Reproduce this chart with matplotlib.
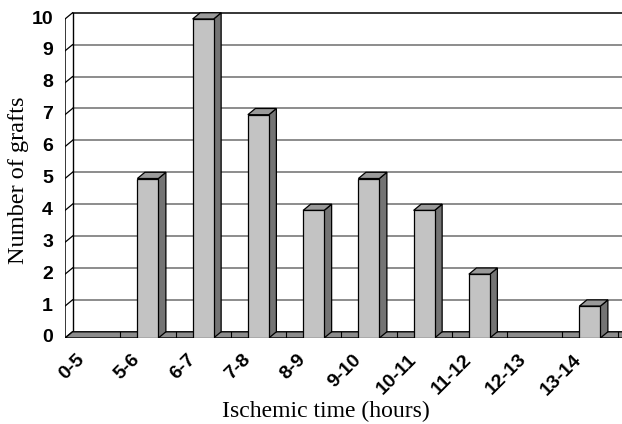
import matplotlib
matplotlib.use("Agg")
import matplotlib.pyplot as plt
from matplotlib.patches import Polygon

# data
categories = ["0-5", "5-6", "6-7", "7-8", "8-9", "9-10", "10-11", "11-12", "12-13", "13-14"]
grafts = [0, 5, 10, 7, 4, 5, 4, 2, 0, 1]
yticks = list(range(0, 11))

# pseudo-3D geometry (data units)
DX = 0.136     # depth shift along x (categories)
DY = 0.195     # depth shift along y (values)
BW = 0.38      # front width of a bar
YMAX = 10

FRONT = "#c3c3c3"
SIDE = "#747474"
TOP = "#9a9a9a"
FLOOR = "#8c8c8c"
GRID = "#6e6e6e"

W, H = 622, 424
fig = plt.figure(figsize=(W / 100, H / 100), dpi=100)

# axes placed so one category = 55.25 px and one unit = 31.9 px
left_px, zero_px = 65, 338
cat_px, unit_px = 55.25, 31.9
ax_w = W - left_px
ax_h = zero_px - 2
ax = fig.add_axes([left_px / W, (H - zero_px) / H, ax_w / W, ax_h / H])
ax.set_xlim(0, ax_w / cat_px)
ax.set_ylim(0, ax_h / unit_px)
ax.axis("off")
xr = ax_w / cat_px + 1

n = len(categories)

# back wall + gridlines
ax.add_patch(Polygon([(DX, DY), (xr, DY), (xr, YMAX + DY), (DX, YMAX + DY)],
                     closed=True, facecolor="white", edgecolor="none", zorder=1))
for t in yticks[1:]:
    c = "black" if t == YMAX else GRID
    ax.plot([DX, xr], [t + DY, t + DY], color=c, lw=1.1, zorder=2, clip_on=False)

# left wall
ax.plot([0, 0], [0, YMAX], color="black", lw=1.1, zorder=2)
ax.plot([DX, DX], [DY, YMAX + DY], color="black", lw=1.0, zorder=2)
for t in yticks:
    ax.plot([0, DX], [t, t + DY], color="black", lw=0.9, zorder=2)

# floor
ax.add_patch(Polygon([(0, 0), (xr, 0), (xr + DX, DY), (DX, DY)], closed=True,
                     facecolor=FLOOR, edgecolor="black", lw=1.0, zorder=3))
for i in range(1, n + 1):
    ax.plot([i, i], [0, DY], color="black", lw=0.8, zorder=3)

# bars
for i, v in enumerate(grafts):
    if v <= 0:
        continue
    x0 = i + 0.5 - BW / 2
    x1 = i + 0.5 + BW / 2
    side = [(x1, 0), (x1 + DX, DY), (x1 + DX, v + DY), (x1, v)]
    top = [(x0, v), (x1, v), (x1 + DX, v + DY), (x0 + DX, v + DY)]
    front = [(x0, 0), (x1, 0), (x1, v), (x0, v)]
    for pts, col in ((side, SIDE), (top, TOP), (front, FRONT)):
        ax.add_patch(Polygon(pts, closed=True, facecolor=col, edgecolor="black",
                             lw=0.9, zorder=4, joinstyle="miter"))

# tick labels
for t in yticks:
    ax.text(-12 / cat_px, t, str(t), ha="right", va="center", fontsize=14,
            fontweight="bold", family="Liberation Sans", zorder=5)
for i, lab in enumerate(categories):
    ax.text(i + 0.5 - 0.3, -13 / unit_px, lab, rotation=45, ha="right", va="top",
            rotation_mode="anchor", fontsize=14, fontweight="bold",
            family="Liberation Sans", zorder=5)

fig.text(326 / W, 1 - 411 / H, "Ischemic time (hours)", ha="center", va="center",
         fontsize=17, family="Liberation Serif")
fig.text(19 / W, 1 - 180 / H, "Number of grafts", ha="center", va="center",
         rotation=90, fontsize=17.5, family="Liberation Serif")

fig.savefig("out.png", dpi=100)
